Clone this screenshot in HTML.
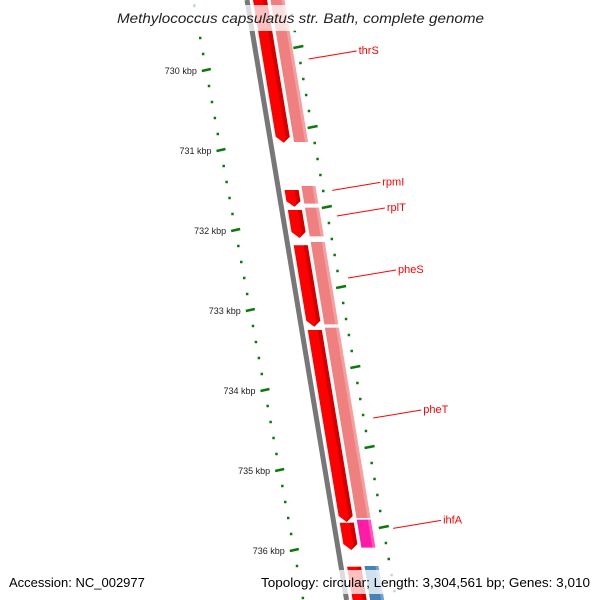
<!DOCTYPE html>
<html><head><meta charset="utf-8"><style>
body{margin:0;background:#fff;overflow:hidden;}
svg{display:block;font-family:"Liberation Sans",sans-serif;}
</style></head><body>
<svg id="map" width="600" height="600" viewBox="0 0 600 600" xmlns="http://www.w3.org/2000/svg">
<g id="ticks"></g>
<g id="backbone"></g>
<g id="genes"></g>
<g id="labels"></g>
<rect x="108" y="5" width="384" height="26" fill="#fff" opacity="0.75"/>
<text x="117" y="23" textLength="367" lengthAdjust="spacingAndGlyphs" font-size="14" font-style="italic" fill="#222">Methylococcus capsulatus str. Bath, complete genome</text>
<rect x="0" y="570" width="600" height="24" fill="#fff" opacity="0.75"/>
<text x="9" y="587" font-size="13" fill="#000">Accession: NC_002977</text>
<text x="261" y="587" textLength="329" lengthAdjust="spacingAndGlyphs" font-size="13" fill="#000">Topology: circular; Length: 3,304,561 bp; Genes: 3,010</text>
</svg>
<script>
const geneNames = ["thrS","rpmI","rplT","pheS","pheT","ihfA","next"];
const geneStart = [729.0,731.5,731.75,732.19,733.25,735.66,736.21];
const geneEnd   = [730.91,731.71,732.1,733.21,735.65,736.0,737.0];
const track2Start = [729.0,731.45,731.72,732.15,733.22,735.62,736.2];
const track2End   = [730.9,731.67,732.08,733.18,735.6,735.97,737.0];
const track2Color = ["#f08080","#f08080","#f08080","#f08080","#f08080","#ff1aa8","#4682b4"];
const labelled = [true,true,true,true,true,true,false];
const majorTicks = [730,731,732,733,734,735,736];

const NS="http://www.w3.org/2000/svg";
function Y(k){return 70+(k-730)*80;}
function mk(tag,attrs,parent){const e=document.createElementNS(NS,tag);for(const a in attrs)e.setAttribute(a,attrs[a]);parent.appendChild(e);return e;}
const gT=document.getElementById('ticks'),gB=document.getElementById('backbone'),gG=document.getElementById('genes'),gL=document.getElementById('labels');
const S=0.166;
let bb=mk('line',{x1:247,y1:0,x2:247+S*600,y2:600,stroke:'#777','stroke-width':5},gB);


function lx(y){return 193+0.1833*y;}
function rx(y){return 289+0.178*y;}
for(let i=0;i<=45;i++){
  const kk=Math.round((729+i*0.2)*10)/10, y=Y(kk);
  const major=Math.abs(kk-Math.round(kk))<0.01;
  if(y>=0&&y<=600){
    let t=mk('line',{x1:lx(y)-(major?4:1),y1:y+(major?1:0),x2:lx(y)+(major?5:1.5),y2:y-(major?1:0),stroke:'#0a7a0a','stroke-width':2.5},gT);
    
    
  }
  const y2=y-23;
  if(y2>=0&&y2<=600){
    let t2=mk('line',{x1:rx(y2)-(major?4:1),y1:y2+(major?1:0),x2:rx(y2)+(major?6:1.5),y2:y2-(major?1:0),stroke:'#0a7a0a','stroke-width':2.5},gT);
    
    
  }
}
majorTicks.forEach(k=>{const y=Y(k);
  let t=mk('text',{x:lx(y)-9,y:y+4,'text-anchor':'end','font-size':9,fill:'#222'},gT);
  t.textContent=k+' kbp';
  
  
});
function cx1(y){return 260+S*y;}
function cx2(y){return 277.5+S*y;}
geneNames.forEach((n,i)=>{
  const y1=Y(geneStart[i]),y2=Y(geneEnd[i]),w=7,a=Math.min(6,(y2-y1)/3);
  const ya=y2-a;
  const pts=[[cx1(y1)-w,y1],[cx1(y1)+w,y1],[cx1(ya)+w,ya],[cx1(y2),y2],[cx1(ya)-w,ya]].map(p=>p.join(',')).join(' ');
  let p=mk('polygon',{points:pts,fill:'#ff0000'},gG);
  
  
  let s=mk('polygon',{points:[[cx1(y1)+3,y1],[cx1(y1)+w,y1],[cx1(ya)+w,ya],[cx1(y2),y2],[cx1(ya)+3,ya]].map(p=>p.join(',')).join(' '),fill:'#d40000'},gG);
  
  
  const z1=Y(track2Start[i]),z2=Y(track2End[i]);
  let r=mk('polygon',{points:[[cx2(z1)-7,z1],[cx2(z1)+7,z1],[cx2(z2)+7,z2],[cx2(z2)-7,z2]].map(p=>p.join(',')).join(' '),fill:track2Color[i]},gG);
  
  
  let r2=mk('polygon',{points:[[cx2(z1)+4,z1],[cx2(z1)+7,z1],[cx2(z2)+7,z2],[cx2(z2)+4,z2]].map(p=>p.join(',')).join(' '),fill:'#fff',opacity:0.25},gG);
  
  
  if(labelled[i]){
    const yy=i==0?59:(y1+y2)/2-8;
    const x0=298+0.18*yy;
    let l=mk('line',{x1:x0,y1:yy,x2:x0+48,y2:yy-8,stroke:'#ff0000','stroke-width':1},gL);
    
    
    let t=mk('text',{x:x0+50,y:yy-5,'font-size':11,fill:'#ff0000'},gL);
    t.textContent=n;
    
    
  }
});
</script>
</body></html>
